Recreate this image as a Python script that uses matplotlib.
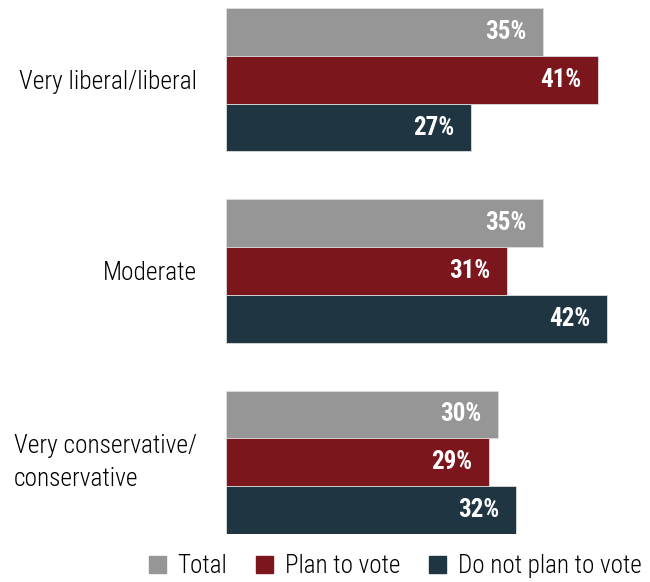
import numpy as np
import matplotlib.pyplot as plt
from matplotlib.patches import Patch

plt.rcParams['font.family'] = ['Roboto Condensed', 'Roboto', 'DejaVu Sans']

# Survey shares by ideology --------------------------------------------
groups = ['Very liberal/liberal', 'Moderate', 'Very conservative/\nconservative']
series = ['Total', 'Plan to vote', 'Do not plan to vote']
total = [35, 35, 30]
plan_to_vote = [41, 31, 29]
not_plan_to_vote = [27, 42, 32]
colors = ['#969696', '#7b161c', '#1f3542']

values = [total, plan_to_vote, not_plan_to_vote]

fig = plt.figure(figsize=(6.5, 5.82), dpi=100)
ax = fig.add_axes([226 / 650, 1 - 534 / 582, 1 - 226 / 650, 526 / 582])

centers = np.arange(len(groups)) * 4.0
for k, (name, vals, c) in enumerate(zip(series, values, colors)):
    ys = centers + (k - 1)
    ax.barh(ys, vals, height=1.0, color=c, edgecolor='#dcdcdc',
            linewidth=0.6, label=name)
    for y, v in zip(ys, vals):
        ax.annotate('{:d}%'.format(v), xy=(v, y), xytext=(-12, 0),
                    textcoords='offset points', ha='right', va='center',
                    color='white', fontsize=18, fontweight='bold')

ax.set_xlim(0, 424 / 9.07)
ax.set_ylim(centers[-1] + 1.5, centers[0] - 1.5)
ax.set_yticks(centers)
ax.set_yticklabels(groups, fontsize=18.3, fontweight='light',
                   multialignment='left', linespacing=1.45)
# two-line label sits a bit higher when centred on its box
ax.get_yticklabels()[-1].set_va('center')
ax.tick_params(axis='y', length=0, pad=21)
ax.set_xticks([])
for s in ax.spines.values():
    s.set_visible(False)

handles = [Patch(color=c) for c in colors]
fig.legend(handles, series, loc='center', bbox_to_anchor=(395 / 650, 1 - 566 / 582),
           ncol=3, frameon=False, prop={'size': 18, 'weight': 'light'},
           handlelength=0.7, handleheight=0.7, handletextpad=0.45,
           columnspacing=1.15, borderpad=0)

fig.savefig('out.png', dpi=100)
